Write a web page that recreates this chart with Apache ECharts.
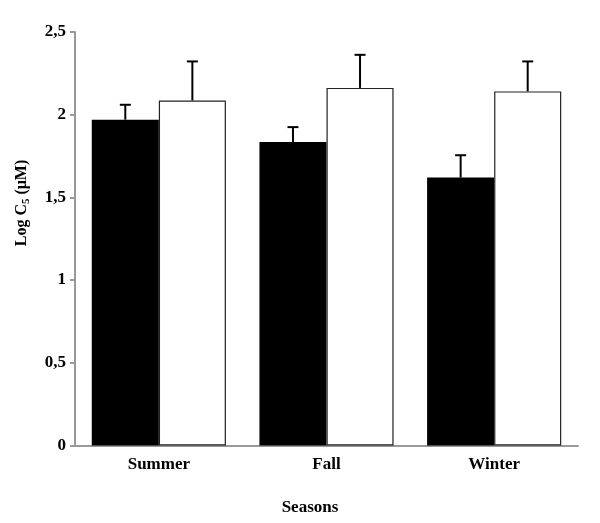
<!DOCTYPE html>
<html>
<head>
<meta charset="utf-8">
<script src="https://cdn.jsdelivr.net/npm/echarts@6/dist/echarts.min.js"></script>
<style>html,body{margin:0;padding:0;background:#fff;}#c{width:600px;height:523px;}</style>
</head>
<body>
<div id="c"></div>
<script>
var categories = ['Summer', 'Fall', 'Winter'];
var blackValues = [1.97, 1.835, 1.62];
var blackErrTop = [2.06, 1.925, 1.755];
var whiteValues = [2.086, 2.162, 2.141];
var whiteErrTop = [2.322, 2.362, 2.322];
var yTickLabels = ['0', '0,5', '1', '1,5', '2', '2,5'];

var FONT = 'Liberation Serif';
var chart = echarts.init(document.getElementById('c'), null, {renderer: 'canvas'});

function errSeries(name, tops, vals, side) {
  return {
    name: name,
    type: 'custom',
    z: 5,
    data: categories.map(function (c, i) { return [i, vals[i], tops[i]]; }),
    renderItem: function (params, api) {
      var band = api.size([1, 0])[0];
      var off = side * band * 0.2;
      var base = api.coord([api.value(0), api.value(1)]);
      var top = api.coord([api.value(0), api.value(2)]);
      var x = base[0] + off;
      var hw = 5.5;
      return {
        type: 'group',
        children: [
          {type: 'line', shape: {x1: x, y1: base[1], x2: x, y2: top[1]}, style: {stroke: '#000', lineWidth: 2}},
          {type: 'line', shape: {x1: x - hw, y1: top[1], x2: x + hw, y2: top[1]}, style: {stroke: '#000', lineWidth: 2}}
        ]
      };
    }
  };
}

chart.setOption({
  animation: false,
  grid: {left: 75, right: 22, top: 32, bottom: 77.5, containLabel: false},
  xAxis: {
    type: 'category',
    data: categories,
    axisLine: {lineStyle: {color: '#999', width: 2}},
    axisTick: {show: false},
    axisLabel: {color: '#000', fontFamily: FONT, fontWeight: 'bold', fontSize: 17, margin: 11},
    name: 'Seasons',
    nameLocation: 'middle',
    nameGap: 54,
    nameTextStyle: {color: '#000', fontFamily: FONT, fontWeight: 'bold', fontSize: 17, padding: [0, 33, 0, 0]}
  },
  yAxis: {
    type: 'value',
    min: 0, max: 2.5, interval: 0.5,
    axisLine: {show: true, lineStyle: {color: '#999', width: 2}},
    axisTick: {show: true, length: 5, lineStyle: {color: '#999', width: 2}},
    splitLine: {show: false},
    axisLabel: {
      color: '#000', fontFamily: FONT, fontWeight: 'bold', fontSize: 17, margin: 9,
      formatter: function (v) { return yTickLabels[Math.round(v / 0.5)]; }
    }
  },
  graphic: [{
    type: 'text',
    x: 22, y: 203,
    rotation: Math.PI / 2,
    style: {
      text: 'Log C{sub|5} (μM)',
      rich: {sub: {fontSize: 11, fontFamily: FONT, fontWeight: 'bold', fill: '#000', verticalAlign: 'bottom', padding: [9, 0, 0, 0]}},
      font: 'bold 16px "Liberation Serif"',
      fill: '#000',
      align: 'center',
      verticalAlign: 'middle'
    }
  }],
  series: [
    {
      name: 'black', type: 'bar', data: blackValues,
      barGap: '0%', barCategoryGap: '20%',
      itemStyle: {color: '#000', borderColor: '#000', borderWidth: 0}
    },
    {
      name: 'white', type: 'bar', data: whiteValues,
      barGap: '0%', barCategoryGap: '20%',
      itemStyle: {color: '#fff', borderColor: '#222', borderWidth: 1.2}
    },
    errSeries('blackErr', blackErrTop, blackValues, -1),
    errSeries('whiteErr', whiteErrTop, whiteValues, 1)
  ]
});
</script>
</body>
</html>
